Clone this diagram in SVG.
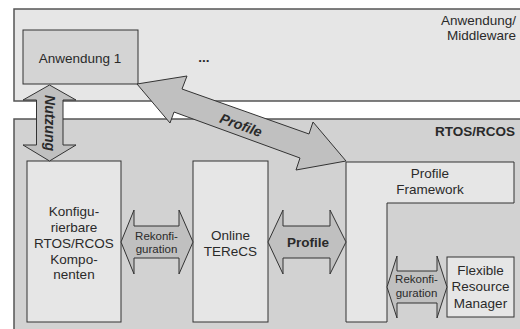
<svg xmlns="http://www.w3.org/2000/svg" width="520" height="329" viewBox="0 0 520 329">
<style>
text{font-family:"Liberation Sans",Arial,sans-serif;fill:#2a2a2a;font-size:13.5px}
.panel-top{fill:#e6e6e6;stroke:#555;stroke-width:1.5}
.panel-bot{fill:#d2d2d2;stroke:#555;stroke-width:1.5}
.box{fill:#e6e6e6;stroke:#333;stroke-width:1}
.box-dark{fill:#d4d4d4;stroke:#333;stroke-width:1}
.arrow{fill:#c0c0c0;stroke:#333;stroke-width:1;stroke-linejoin:miter}
.c{text-anchor:middle}
.r{text-anchor:end}
.bi{font-weight:bold;font-style:italic;font-size:14px}
.small{font-size:11.5px}
</style>
<rect width="520" height="329" fill="#fff"/>
<g id="layer-app">
<rect class="panel-top" x="14" y="9" width="520" height="92"/>
<text class="r" x="516" y="25">Anwendung/</text>
<text class="r" x="516" y="39.5">Middleware</text>
</g>
<g id="layer-rtos">
<rect class="panel-bot" x="14" y="119" width="520" height="230"/>
<text class="r" x="515" y="136" font-weight="bold" font-size="10.5">RTOS/RCOS</text>
</g>
<g id="anwendung1">
<rect class="box-dark" x="23" y="30" width="115" height="54"/>
<text class="c" x="80" y="63">Anwendung 1</text>
</g>
<g id="more-apps">
<text class="c" x="204" y="62" font-weight="bold" font-size="12">...</text>
</g>
<g id="konfig">
<rect class="box" x="27" y="161" width="94" height="161"/>
<text class="c" x="74" y="216">Konfigu-</text>
<text class="c" x="74" y="231.5">rierbare</text>
<text class="c" x="74" y="247.5">RTOS/RCOS</text>
<text class="c" x="74" y="263.5">Kompo-</text>
<text class="c" x="74" y="279">nenten</text>
</g>
<g id="terecs">
<rect class="box" x="193" y="161" width="75" height="161"/>
<text class="c" x="230.5" y="240">Online</text>
<text class="c" x="230.5" y="255.5">TEReCS</text>
</g>
<g id="framework">
<path class="box" d="M346,162 H514 V203 H387 V322 H346 Z"/>
<text class="c" x="430" y="178">Profile</text>
<text class="c" x="430" y="194">Framework</text>
</g>
<g id="frm">
<rect class="box" x="447" y="257" width="67" height="60"/>
<text class="c" x="480.5" y="274.5">Flexible</text>
<text class="c" x="480.5" y="291">Resource</text>
<text class="c" x="480.5" y="307.5">Manager</text>
</g>
<g id="connectors">
<polygon class="arrow" points="49.5,85 76,100 63,100 63,145 76,145 49.5,161 23,145 36.5,145 36.5,100 23,100"/>
<text class="c bi" transform="translate(49.5,123) rotate(90)" x="0" y="5">Nutzung</text>
<polygon class="arrow" points="137,84 187,76 182,89 309,134 313,122 346,161 296,170 300,158 174,112 170,123"/>
<text class="c bi" transform="translate(241,125) rotate(20.2)" x="0" y="5">Profile</text>
<polygon class="arrow" points="121,242 134,210 134,226 179,226 179,210 193,242 179,274 179,258 134,258 134,274"/>
<text class="c small" x="156.5" y="240">Rekonfi-</text>
<text class="c small" x="156.5" y="253">guration</text>
<polygon class="arrow" points="268,242 283,210 283,226 330,226 330,210 346,242 330,274 330,258 283,258 283,274"/>
<text class="c" x="308" y="247" font-weight="bold" font-size="13.5">Profile</text>
<polygon class="arrow" points="387,287 397,256 397,271 437,271 437,256 447,287 437,318 437,303 397,303 397,318"/>
<text class="c small" x="416.5" y="283" font-size="11">Rekonfi-</text>
<text class="c small" x="416.5" y="297" font-size="11">guration</text>
</g>
</svg>
